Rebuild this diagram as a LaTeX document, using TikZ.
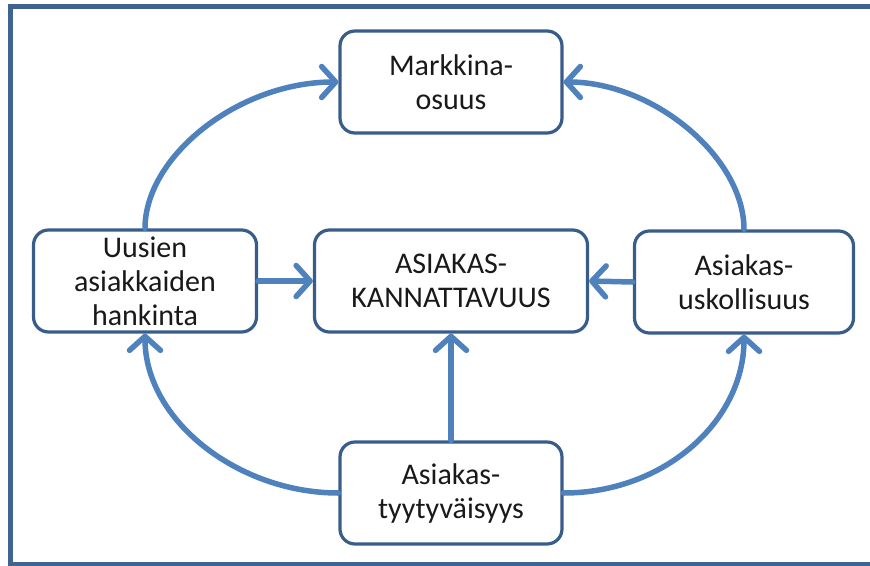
\documentclass[tikz,border=0pt]{standalone}
\usepackage{fontspec}
\setmainfont{Carlito}
\usetikzlibrary{arrows.meta}
\definecolor{framecol}{RGB}{64,100,146}
\definecolor{boxcol}{RGB}{56,93,138}
\definecolor{arrcol}{RGB}{79,129,189}
\begin{document}
\begin{tikzpicture}[x=1pt,y=-1pt,
  stepbox/.style={draw=boxcol, line width=3.2pt, rounded corners=15pt, fill=white,
    align=center, inner sep=0pt, minimum height=102pt,
    font=\fontsize{30}{34}\selectfont, text=black!90},
  arr/.style={draw=arrcol, line width=5.5pt, line cap=round,
    -{Straight Barb[length=14pt,width=31pt,line cap=round,line join=round]}}]
  \useasboundingbox (0,0) rectangle (870,565);
  % outer frame (right side runs past the page edge)
  \draw[framecol, line width=5pt] (880,6.5) -- (10.5,6.5) -- (10.5,564.5) -- (880,564.5);

  % boxes
  \node[stepbox, minimum width=222pt] (mark) at (451,82) {Markkina-\\osuus};
  \node[stepbox, minimum width=223pt] (uus)  at (145,281) {Uusien\\asiakkaiden\\hankinta};
  \node[stepbox, minimum width=273pt] (kan)  at (451,281) {ASIAKAS-\\KANNATTAVUUS};
  \node[stepbox, minimum width=219pt] (usk)  at (744,282) {Asiakas-\\uskollisuus};
  \node[stepbox, minimum width=222pt] (tyy)  at (451,493) {Asiakas-\\tyytyväisyys};

  % straight connectors into the centre
  \draw[arr] (uus.east) -- (kan.west);
  \draw[arr] (usk.west) -- (kan.east);
  \draw[arr] (tyy.north) -- (kan.south);

  % outer ring
  \draw[arr] (uus.north) .. controls +(0,-72) and +(-100,0) .. (mark.west);
  \draw[arr] (usk.north) .. controls +(0,-72) and +(90,0) .. (mark.east);
  \draw[arr] (tyy.west) .. controls +(-100,0) and +(0,87) .. (uus.south);
  \draw[arr] (tyy.east) .. controls +(100,0) and +(0,87) .. (usk.south);
\end{tikzpicture}
\end{document}
